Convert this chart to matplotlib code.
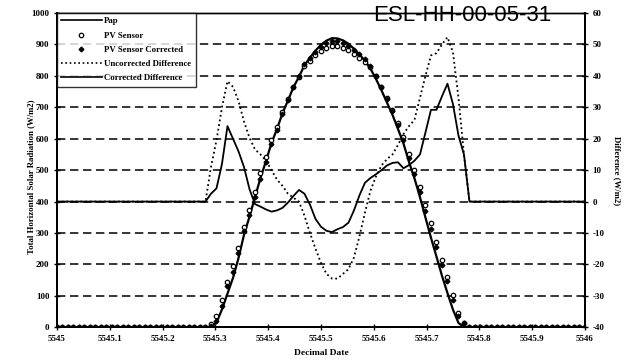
import numpy as np
import matplotlib
matplotlib.use("Agg")
import matplotlib.pyplot as plt
from matplotlib.lines import Line2D

# 15-minute samples over one decimal day
times = 5545 + np.arange(97) / 96.0

night_am = [0] * 28
night_pm = [0] * 22

# Pyranometer (Pap) horizontal radiation, W/m2
pap = night_am + [
    0, 15, 57, 107, 157, 220, 294, 352, 414, 475, 529, 586, 631, 681, 722, 764,
    797, 834, 858, 880, 899, 912, 920, 919, 913, 902, 886, 868, 848, 823, 790,
    754, 715, 676, 631, 585, 526, 474, 414, 349, 285, 225, 164, 109, 56, 14, 0,
] + night_pm

# PV sensor reading, W/m2
pv_sensor = night_am + [
    11, 35, 87, 145, 194, 252, 320, 372, 431, 490, 542, 596, 638, 686, 725, 765,
    797, 830, 848, 865, 880, 889, 896, 895, 890, 881, 868, 857, 845, 827, 798,
    766, 729, 691, 649, 607, 550, 500, 447, 389, 332, 272, 214, 161, 104, 47, 15,
] + night_pm

# PV sensor after correction, W/m2
pv_corrected = night_am + [
    3, 19, 69, 131, 177, 236, 305, 356, 413, 473, 527, 583, 628, 679, 722, 766,
    801, 837, 857, 875, 891, 903, 910, 910, 905, 895, 883, 870, 854, 831, 799,
    764, 727, 688, 644, 596, 538, 487, 429, 371, 314, 254, 198, 147, 87, 35, 15,
] + night_pm

# Differences (sensor - Pap), W/m2
diff_uncorrected = night_am + [
    11, 19.5, 30, 38.3, 36.5, 32, 25.5, 20.3, 16.6, 15, 13, 10, 7, 5, 2.5, 1.2,
    0, -4.5, -10, -15, -19.5, -23, -24.5, -24.5, -23, -21.5, -17.8, -11, -3.5,
    3.5, 8, 11.5, 13.5, 15, 18, 21.5, 24, 26, 33, 40, 46.5, 47.2, 50, 52.3,
    47.5, 33, 15,
] + night_pm

diff_corrected = night_am + [
    2.5, 4.2, 12, 24, 20, 16, 11, 4, -0.8, -1.6, -2.5, -3.2, -2.8, -2, -0.3,
    1.8, 3.7, 2.5, -1, -5.5, -8, -9.3, -9.7, -8.8, -8.1, -6.7, -2.8, 2, 6, 7.5,
    8.7, 10, 11.5, 12.3, 12.5, 10.6, 11.6, 13, 15, 22, 29.2, 29.2, 33.5, 37.5,
    31, 21, 15,
] + night_pm

x_ticks = [5545 + k / 10 for k in range(11)]
x_tick_labels = ["5545", "5545.1", "5545.2", "5545.3", "5545.4", "5545.5",
                 "5545.6", "5545.7", "5545.8", "5545.9", "5546"]
left_ticks = list(range(0, 1001, 100))
right_ticks = list(range(-40, 61, 10))

serif = "Liberation Serif"
tick_font = dict(family=serif, weight="bold", size=6.5)

fig = plt.figure(figsize=(6.29, 3.64), dpi=100)
ax = fig.add_axes([0.0906, 0.1008, 0.8394, 0.8635])
ax2 = ax.twinx()

ax.set_xlim(5545, 5546)
ax.set_ylim(0, 1000)
ax2.set_ylim(-40, 60)

# dashed horizontal grid
for v in left_ticks[1:-1]:
    ax.axhline(v, color="black", lw=1.1, ls=(0, (5.5, 3)), zorder=0)

ax.plot(times, pap, color="black", lw=1.6, zorder=3)
ax.plot(times, pv_sensor, ls="none", marker="o", ms=3.2, mfc="white",
        mec="black", mew=0.9, zorder=4)
ax.plot(times, pv_corrected, ls="none", marker="D", ms=2.4, mfc="black",
        mec="black", zorder=5)

ax2.plot(times, diff_uncorrected, color="black", lw=1.3, ls=(0, (1, 1.6)))
ax2.plot(times, diff_corrected, color="black", lw=1.3)

ax.set_xticks(x_ticks)
ax.set_xticklabels(x_tick_labels, fontdict=tick_font)
ax.set_yticks(left_ticks)
ax.set_yticklabels([str(v) for v in left_ticks], fontdict=tick_font)
ax2.set_yticks(right_ticks)
ax2.set_yticklabels([str(v) for v in right_ticks], fontdict=tick_font)

for a in (ax, ax2):
    a.tick_params(direction="inout", length=5, width=1, pad=3, colors="black")
    for s in a.spines.values():
        s.set_linewidth(1.4)
        s.set_color("black")
ax.spines["top"].set_linewidth(1.0)
ax2.spines["top"].set_linewidth(1.0)

lab_font = dict(family=serif, weight="bold", size=6.3)
ax.set_xlabel("Decimal Date", fontdict=dict(family=serif, weight="bold",
                                            size=6.8), labelpad=4)
ax.set_ylabel("Total Horizontal Solar Radiation (W/m2)", fontdict=lab_font)
ax.yaxis.set_label_coords(-0.042, 0.48)
ax2.set_ylabel("Difference (W/m2)", fontdict=lab_font, rotation=270,
               labelpad=12)

handles = [
    Line2D([], [], color="black", lw=1.2),
    Line2D([], [], ls="none", marker="o", ms=3.2, mfc="white", mec="black",
           mew=0.9),
    Line2D([], [], ls="none", marker="D", ms=2.4, mfc="black", mec="black"),
    Line2D([], [], color="black", lw=1.2, ls=(0, (1, 1.6))),
    Line2D([], [], color="black", lw=1.2),
]
labels = ["Pap", "PV Sensor", "PV Sensor Corrected", "Uncorrected Difference",
          "Corrected Difference"]
leg = ax2.legend(handles, labels, loc="upper left", bbox_to_anchor=(0, 1),
                 borderaxespad=0, frameon=True, fancybox=False,
                 prop=dict(family=serif, weight="bold", size=6.3),
                 handlelength=4.6, handletextpad=0.3, labelspacing=0.7,
                 borderpad=0.5)
leg.get_frame().set_edgecolor("black")
leg.get_frame().set_linewidth(1.0)

fig.text(0.735, 0.958, "ESL-HH-00-05-31", ha="center", va="center",
         fontsize=16, family="Liberation Sans", color="black")

fig.savefig("out.png", dpi=100)
